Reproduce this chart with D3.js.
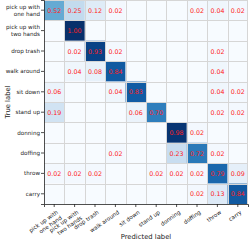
<!DOCTYPE html>
<html><head><meta charset="utf-8">
<script src="https://cdn.jsdelivr.net/npm/d3@7"></script>
<style>body{margin:0;background:#fff}svg{display:block}</style>
</head><body>
<script>
const labels = ["pick up with\none hand","pick up with\ntwo hands","drop trash","walk around","sit down","stand up","donning","doffing","throw","carry"];
const row0 = [0.52,0.25,0.12,0.02,0,0,0,0.02,0.04,0.02];
const row1 = [0,1.00,0,0,0,0,0,0,0,0];
const row2 = [0,0.02,0.93,0.02,0,0,0,0,0.02,0];
const row3 = [0,0.04,0.08,0.84,0,0,0,0,0.04,0];
const row4 = [0.06,0,0,0.04,0.83,0,0,0,0.04,0.02];
const row5 = [0.19,0,0,0,0.06,0.70,0,0,0.02,0.02];
const row6 = [0,0,0,0,0,0,0.98,0.02,0,0];
const row7 = [0,0,0,0.02,0,0,0.23,0.72,0.02,0];
const row8 = [0.02,0.02,0.02,0,0,0.02,0.02,0.02,0.79,0.09];
const row9 = [0,0,0,0,0,0,0,0.02,0.13,0.84];
const matrix = [row0,row1,row2,row3,row4,row5,row6,row7,row8,row9];

const W=249,H=242;
const svg=d3.select("body").append("svg").attr("width",W).attr("height",H);
const x0=44,x1=248,y0=0,y1=204;
const idx=d3.range(labels.length);
const x=d3.scaleBand().domain(idx).range([x0,x1]);
const y=d3.scaleBand().domain(idx).range([y0,y1]);
const color=d3.scaleSequential(d3.interpolateBlues).domain([0,1]);

const cells=[];
matrix.forEach((r,i)=>r.forEach((v,j)=>cells.push({i,j,v})));
svg.append("g").selectAll("rect").data(cells).join("rect")
  .attr("x",d=>x(d.j)).attr("y",d=>y(d.i))
  .attr("width",x.bandwidth()).attr("height",y.bandwidth())
  .attr("fill",d=>color(d.v));

// grid lines at cell boundaries
const g=svg.append("g").attr("stroke","#d6d6d6").attr("stroke-width",1);
d3.range(1,labels.length).forEach(k=>{
  const xv=Math.round(x0+k*x.bandwidth())+0.5;
  const yv=Math.round(y0+k*y.bandwidth())+0.5;
  g.append("line").attr("x1",xv).attr("x2",xv).attr("y1",y0).attr("y2",y1);
  g.append("line").attr("x1",x0).attr("x2",x1).attr("y1",yv).attr("y2",yv);
});
g.append("line").attr("x1",x1-0.5).attr("x2",x1-0.5).attr("y1",y0).attr("y2",y1);
g.append("line").attr("x1",x0).attr("x2",x1).attr("y1",y0+0.5).attr("y2",y0+0.5);

// values
svg.append("g").selectAll("text").data(cells.filter(d=>d.v>0)).join("text")
  .attr("x",d=>x(d.j)+x.bandwidth()/2).attr("y",d=>y(d.i)+y.bandwidth()/2)
  .attr("text-anchor","middle").attr("dominant-baseline","central")
  .attr("fill","#ff2020").attr("font-family","DejaVu Sans").attr("font-size",6.3)
  .text(d=>d.v.toFixed(2));

// axes
const yAxis=d3.axisLeft(y).tickSize(3).tickFormat("");
const ya=svg.append("g").attr("transform",`translate(${x0},0)`).call(yAxis);
const xAxis=d3.axisBottom(x).tickSize(3).tickFormat("");
const xa=svg.append("g").attr("transform",`translate(0,${y1})`).call(xAxis);
[ya,xa].forEach(a=>{a.select(".domain").attr("stroke","#222").attr("stroke-width",0.8);a.selectAll(".tick line").attr("stroke","#222").attr("stroke-width",0.8);});

// y tick labels
const fs=5.6;
idx.forEach(i=>{
  const lines=labels[i].split("\n");
  const t=svg.append("text").attr("text-anchor","end").attr("font-family","DejaVu Sans")
    .attr("font-size",fs).attr("fill","#222");
  const cy=y(i)+y.bandwidth()/2;
  const lh=fs*1.2;
  lines.forEach((l,k)=>{
    t.append("tspan").attr("x",x0-4).attr("y",cy+(k-(lines.length-1)/2)*lh).attr("dy","0.35em").text(l);
  });
});
// x tick labels
idx.forEach(j=>{
  const lines=labels[j].split("\n");
  const cx=x(j)+x.bandwidth()/2;
  const t=svg.append("text").attr("text-anchor","end").attr("font-family","DejaVu Sans")
    .attr("font-size",fs).attr("fill","#222")
    .attr("transform",`translate(${cx+2},${y1+6}) rotate(-35)`);
  lines.forEach((l,k)=>{
    t.append("tspan").attr("x",0).attr("y",k*fs*1.2).attr("dy","0.7em").text(l);
  });
});

svg.append("text").attr("transform",`translate(10,${(y0+y1)/2}) rotate(-90)`)
  .attr("text-anchor","middle").attr("font-family","DejaVu Sans").attr("font-size",6.8).attr("fill","#222")
  .text("True label");
svg.append("text").attr("x",(x0+x1)/2).attr("y",239).attr("text-anchor","middle")
  .attr("font-family","DejaVu Sans").attr("font-size",6.8).attr("fill","#222")
  .text("Predicted label");
</script>
</body></html>
